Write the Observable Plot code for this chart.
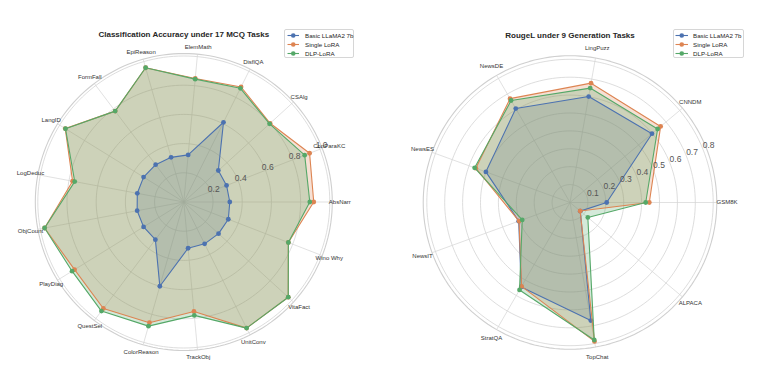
<!DOCTYPE html>
<html>
<head>
<meta charset="utf-8">
<script src="https://cdn.jsdelivr.net/npm/d3@7"></script>
<script src="https://cdn.jsdelivr.net/npm/@observablehq/plot@0.6"></script>
<style>
  body { margin: 0; background: #fff; }
  #wrap { position: relative; width: 761px; height: 370px; overflow: hidden; font-family: "Liberation Sans", Arial, sans-serif; }
  .panel { position: absolute; top: 0; }
  .legend { position: absolute; box-sizing: border-box; border: 0.8px solid #d6d6d6; border-radius: 2px; background: rgba(255,255,255,0.85); font-size: 6.2px; color: #262626; }
  .legend .row { position: absolute; left: 0; height: 9px; white-space: nowrap; }
  .legend svg { position: absolute; left: 0; top: 0; }
  .legend span { position: absolute; top: 0; line-height: 9px; }
</style>
</head>
<body>
<div id="wrap"></div>
<script>
// ---------- data ----------
const seriesNames = ["Basic LLaMA2 7b", "Single LoRA", "DLP-LoRA"];
const seriesColors = ["#4C72B0", "#DD8452", "#55A868"];

const mcqTitle = "Classification Accuracy under 17 MCQ Tasks";
const mcqTasks = ["AbsNarr", "ConParaKC", "CSAlg", "DisflQA", "ElemMath", "EpiReason", "FormFall", "LangID", "LogDeduc",
                  "ObjCount", "PlayDiag", "QuestSel", "ColorReason", "TrackObj", "UnitConv", "VitaFact", "Wino Why"];
const mcqBasic  = [0.315, 0.314, 0.320, 0.610, 0.324, 0.318, 0.320, 0.324, 0.324, 0.325, 0.324, 0.323, 0.600, 0.318, 0.320, 0.322, 0.327];
const mcqSingle = [0.890, 0.924, 0.800, 0.880, 0.850, 0.956, 0.780, 0.955, 0.775, 0.970, 0.880, 0.914, 0.860, 0.753, 0.965, 0.968, 0.768];
const mcqDlp    = [0.863, 0.888, 0.795, 0.870, 0.845, 0.956, 0.780, 0.953, 0.760, 0.970, 0.900, 0.936, 0.884, 0.780, 0.965, 0.968, 0.768];
const mcqTicks  = [0.2, 0.4, 0.6, 0.8, 1.0];

const genTitle = "RougeL under 9 Generation Tasks";
const genTasks  = ["GSM8K", "CNNDM", "LingPuzz", "NewsDE", "NewsES", "NewsIT", "StratQA", "TopChat", "ALPACA"];
const genBasic  = [0.205, 0.598, 0.601, 0.606, 0.500, 0.305, 0.545, 0.670, 0.075];
const genSingle = [0.443, 0.661, 0.677, 0.670, 0.560, 0.303, 0.541, 0.788, 0.074];
const genDlp    = [0.423, 0.639, 0.649, 0.658, 0.567, 0.284, 0.564, 0.780, 0.130];
const genTicks  = [0.1, 0.2, 0.3, 0.4, 0.5, 0.6, 0.7, 0.8];

// ---------- drawing ----------
function radar(cfg) {
  const {tasks, values, ticks, rmax, title, width, height, cx, cy, px, labelR, tickShift, titleDy} = cfg;
  const N = tasks.length;
  const ang = i => 2 * Math.PI * i / N;
  const rows = [];
  values.forEach((vals, s) => vals.forEach((v, i) => rows.push({s, task: tasks[i], v, a: ang(i)})));
  const X = d => d.v * Math.cos(d.a), Y = d => d.v * Math.sin(d.a);

  const ringVals = ticks.concat([rmax]);
  const rings = [];
  ringVals.forEach((t, k) => { for (let deg = 0; deg < 360; deg += 2) rings.push({k, t, a: deg * Math.PI / 180}); });
  const ringX = d => d.t * Math.cos(d.a), ringY = d => d.t * Math.sin(d.a);

  const spokes = tasks.map((t, i) => ({a: ang(i)}));
  const tickA = 22.5 * Math.PI / 180;

  const marks = [
    Plot.line(rings, {x: ringX, y: ringY, z: "k", curve: "linear-closed", stroke: "#cfcfcf",
      strokeWidth: d => d.k === ringVals.length - 1 ? 1.1 : 0.7}),
    Plot.link(spokes, {x1: () => 0, y1: () => 0, x2: d => rmax * Math.cos(d.a), y2: d => rmax * Math.sin(d.a), stroke: "#d4d4d4", strokeWidth: 0.7})
  ];
  // fills
  values.forEach((vals, s) => {
    marks.push(Plot.line(rows.filter(d => d.s === s), {x: X, y: Y, curve: "linear-closed", fill: seriesColors[s], fillOpacity: 0.25, stroke: "none"}));
  });
  // lines + markers
  values.forEach((vals, s) => {
    const r = rows.filter(d => d.s === s);
    marks.push(Plot.line(r, {x: X, y: Y, curve: "linear-closed", stroke: seriesColors[s], strokeWidth: 1.1}));
    marks.push(Plot.dot(r, {x: X, y: Y, r: 2.4, fill: seriesColors[s], stroke: "none"}));
  });
  // radial tick labels
  marks.push(Plot.text(ticks, {x: t => (t + tickShift) * Math.cos(tickA), y: t => (t + tickShift) * Math.sin(tickA),
    text: t => t.toFixed(1), fontSize: 8.5, fill: "#555", textAnchor: "middle"}));
  // category labels
  marks.push(Plot.text(tasks, {x: (t, i) => labelR * Math.cos(ang(i)), y: (t, i) => labelR * Math.sin(ang(i)),
    text: t => t, fontSize: 6, fill: "#333", textAnchor: "middle"}));
  // title
  marks.push(Plot.text([title], {x: () => 0, frameAnchor: "top", dy: titleDy, text: d => d, fontSize: 8, fontWeight: "bold", fill: "#262626"}));

  return Plot.plot({
    width, height,
    margin: 0,
    style: {fontFamily: '"Liberation Sans", Arial, sans-serif', background: "transparent", overflow: "visible"},
    x: {domain: [-cx / px, (width - cx) / px], range: [0, width], axis: null},
    y: {domain: [-(height - cy) / px, cy / px], range: [height, 0], axis: null},
    marks
  });
}

function legend(left, top, w, h, lineX0, lineX1, textX) {
  const div = document.createElement("div");
  div.className = "legend";
  Object.assign(div.style, {left: left + "px", top: top + "px", width: w + "px", height: h + "px"});
  seriesNames.forEach((name, s) => {
    const row = document.createElement("div");
    row.className = "row";
    row.style.top = (1 + s * 8.8) + "px";
    row.style.width = w + "px";
    const mid = (lineX0 + lineX1) / 2;
    row.innerHTML = `<svg width="${w}" height="9"><line x1="${lineX0}" x2="${lineX1}" y1="4.5" y2="4.5" stroke="${seriesColors[s]}" stroke-width="1.1"/><circle cx="${mid}" cy="4.5" r="2.3" fill="${seriesColors[s]}"/></svg><span style="left:${textX}px">${name}</span>`;
    div.appendChild(row);
  });
  return div;
}

const wrap = document.getElementById("wrap");

const left = radar({tasks: mcqTasks, values: [mcqBasic, mcqSingle, mcqDlp], ticks: mcqTicks, rmax: 1.017,
  title: mcqTitle, width: 380, height: 370, cx: 183.3, cy: 201.5, px: 146, labelR: 156 / 146, tickShift: 0.022, titleDy: 30.7});
left.classList.add("panel"); left.style.left = "0px";
wrap.appendChild(left);

const right = radar({tasks: genTasks, values: [genBasic, genSingle, genDlp], ticks: genTicks, rmax: 0.82,
  title: genTitle, width: 381, height: 370, cx: 189.5, cy: 202, px: 179, labelR: 157 / 179, tickShift: 0.038, titleDy: 32.3});
right.classList.add("panel"); right.style.left = "380px";
wrap.appendChild(right);

wrap.appendChild(legend(284, 29, 70, 28.5, 2.5, 14, 20));
wrap.appendChild(legend(672.5, 29, 71, 29, 1.5, 14, 19.5));
</script>
</body>
</html>
